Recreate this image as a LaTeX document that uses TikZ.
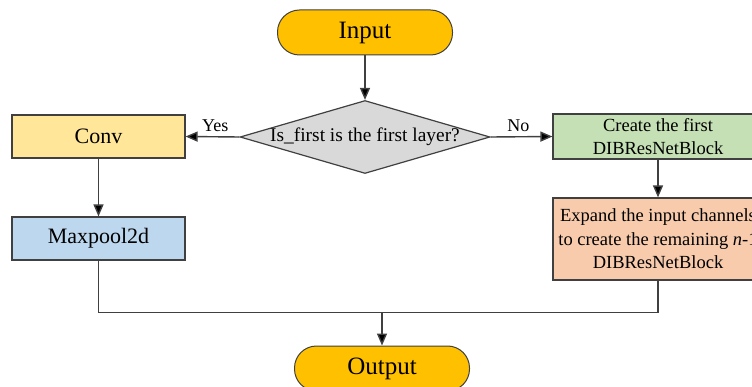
\documentclass[tikz,border=0pt]{standalone}
\usepackage{fontspec}
\setmainfont{Liberation Serif}
\usetikzlibrary{arrows.meta,shapes.geometric}
\definecolor{pillfill}{HTML}{FFC000}
\definecolor{convfill}{HTML}{FFE699}
\definecolor{poolfill}{HTML}{BDD7EE}
\definecolor{greenfill}{HTML}{C5E0B4}
\definecolor{salmonfill}{HTML}{F8CBAD}
\definecolor{askfill}{HTML}{D9D9D9}
\definecolor{edge}{HTML}{404040}
\tikzset{
  every node/.style={font=\fontsize{20}{24}\selectfont, text=black},
  pill/.style={draw=edge, line width=1pt, fill=pillfill, rounded corners=22pt,
    minimum width=175pt, minimum height=45pt, inner sep=0pt, font=\fontsize{25}{29}\selectfont},
  procbox/.style={draw=edge, line width=1.2pt, minimum width=173pt, minimum height=43pt,
    inner sep=0pt, align=center, font=\fontsize{22}{26}\selectfont},
  widebox/.style={procbox, minimum width=210pt, font=\fontsize{18.5}{23.5}\selectfont},
  ask/.style={draw=edge, line width=1.2pt, fill=askfill, diamond,
    minimum width=250pt, minimum height=73pt, inner sep=0pt},
  flow/.style={draw=edge, line width=1.4pt, -{Triangle[length=12pt,width=10pt,fill=black]}},
  wire/.style={draw=edge, line width=1.4pt},
  tag/.style={font=\fontsize{18}{22}\selectfont}
}
\begin{document}
\begin{tikzpicture}[x=1pt,y=-1pt]
  \clip (0,0) rectangle (752,387);
  \fill[white] (0,0) rectangle (752,387);

  % terminals
  \node[pill] (in) at (365,32.5) {Input};
  \node[pill] (out) at (382,368.5) {Output};

  % decision
  \node[ask] (q) at (365,137) {};
  \node[font=\fontsize{19.4}{23}\selectfont] at (q) {Is\_first is the first layer?};

  % left branch
  \node[procbox, fill=convfill] (conv) at (98.5,136.5) {Conv};
  \node[procbox, fill=poolfill] (pool) at (98.5,238.5) {Maxpool2d};

  % right branch
  \node[widebox, fill=greenfill, minimum height=45pt] (first) at (658,136.5)
    {Create the first\\DIBResNetBlock};
  \node[widebox, fill=salmonfill, minimum height=82pt] (rest) at (658,239)
    {Expand the input channels\\to create the remaining \textit{n}-1\\DIBResNetBlock};

  % merge point
  \coordinate (m) at (382,312.5);
  \coordinate (ml) at (98.5,312.5);
  \coordinate (mr) at (658,312.5);

  % connectors
  \draw[flow] (in.south) -- (q.north);
  \draw[flow] (q.west) -- node[tag, above=1pt, pos=0.45] {Yes} (conv.east);
  \draw[flow] (q.east) -- node[tag, above=1pt, pos=0.45] {No} (first.west);
  \draw[flow] (conv.south) -- (pool.north);
  \draw[flow] (first.south) -- (rest.north);
  \draw[wire] (pool.south) -- (ml) -- (mr) -- (rest.south);
  \draw[flow] (m) -- (out.north);
\end{tikzpicture}
\end{document}
